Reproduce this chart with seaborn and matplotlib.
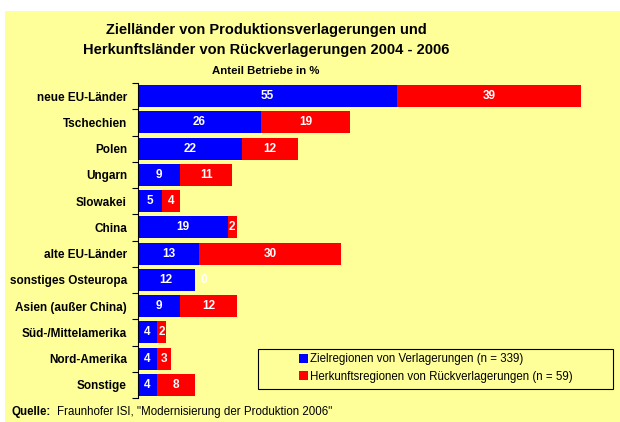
import matplotlib
matplotlib.use("Agg")
import matplotlib.pyplot as plt
from matplotlib.patches import Rectangle
from matplotlib.ticker import FixedLocator
import pandas as pd
import seaborn as sns

plt.rcParams['font.family'] = ['Liberation Sans', 'DejaVu Sans']

# data
regions = ['neue EU-Länder', 'Tschechien', 'Polen', 'Ungarn', 'Slowakei', 'China',
           'alte EU-Länder', 'sonstiges Osteuropa', 'Asien (außer China)',
           'Süd-/Mittelamerika', 'Nord-Amerika', 'Sonstige']
ziel = [55, 26, 22, 9, 5, 19, 13, 12, 9, 4, 4, 4]
herkunft = [39, 19, 12, 11, 4, 2, 30, 0, 12, 2, 3, 8]
label_ziel = 'Zielregionen von Verlagerungen (n = 339)'
label_herkunft = 'Herkunftsregionen von Rückverlagerungen (n = 59)'

BG = '#FFFF99'
BLUE = '#0000FF'
RED = '#FF0000'

df = pd.DataFrame({'region': regions, 'ziel': ziel, 'herkunft': herkunft})
df['total'] = df['ziel'] + df['herkunft']

fig = plt.figure(figsize=(6.2, 4.22), dpi=100)
fig.patch.set_facecolor('white')
fig.patches.append(Rectangle((5 / 620, 0), 1, 411 / 422, transform=fig.transFigure,
                             facecolor=BG, edgecolor='none', zorder=-10))

ax = fig.add_axes([138 / 620, 24 / 422, 462 / 620, 315 / 422])
ax.set_facecolor('none')

# stacked bars: total in red, blue part drawn on top
sns.barplot(data=df, x='total', y='region', color=RED, width=0.84, saturation=1,
            edgecolor='none', ax=ax, label=label_herkunft)
sns.barplot(data=df, x='ziel', y='region', color=BLUE, width=0.84, saturation=1,
            edgecolor='none', ax=ax, label=label_ziel)
handles, labels = ax.get_legend_handles_labels()
if ax.get_legend() is not None:
    ax.get_legend().remove()

ax.set_xlim(0, 98)
ax.set_ylim(11.5, -0.5)
ax.set_xlabel('')
ax.set_ylabel('')
ax.set_xticks([])
for s in ['top', 'right', 'bottom']:
    ax.spines[s].set_visible(False)
ax.spines['left'].set_color('black')
ax.spines['left'].set_linewidth(0.8)
ax.tick_params(axis='y', which='major', length=0, pad=8)
ax.yaxis.set_minor_locator(FixedLocator([i - 0.5 for i in range(len(regions) + 1)]))
ax.tick_params(axis='y', which='minor', length=4, width=0.8, color='black')
for t in ax.get_yticklabels():
    t.set_fontweight('bold')
    t.set_fontsize(8.5)

for i, (b, r) in enumerate(zip(ziel, herkunft)):
    ax.text(b / 2, i, str(b), color='white', fontweight='bold', fontsize=8.5,
            ha='center', va='center')
    rx = b + r / 2 if r > 0 else b + 2
    ax.text(rx, i, str(r), color='white', fontweight='bold', fontsize=8.5,
            ha='center', va='center')

# legend box drawn by hand, legend content centred inside it
fig.patches.append(Rectangle((258 / 620, 1 - 389 / 422), 355 / 620, 40 / 422,
                             transform=fig.transFigure, facecolor=BG,
                             edgecolor='black', linewidth=0.8, zorder=2))
leg = fig.legend(handles[::-1], labels[::-1], loc='center',
                 bbox_to_anchor=(436 / 620, 1 - 368 / 422),
                 fontsize=8.3, frameon=False, handlelength=0.75,
                 handleheight=0.75, handletextpad=0.2, borderpad=0, labelspacing=0.45)
leg._legend_box.align = 'left'
leg.set_zorder(3)

fig.text(266 / 620, 1 - 30 / 422, 'Zielländer von Produktionsverlagerungen und',
         ha='center', va='center', fontsize=10.5, fontweight='bold')
fig.text(266 / 620, 1 - 50 / 422, 'Herkunftsländer von Rückverlagerungen 2004 - 2006',
         ha='center', va='center', fontsize=10.5, fontweight='bold')
fig.text(266 / 620, 1 - 71 / 422, 'Anteil Betriebe in %',
         ha='center', va='center', fontsize=8.2, fontweight='bold')

fig.text(12 / 620, 1 - 412 / 422, 'Quelle:', ha='left', va='center',
         fontsize=8.3, fontweight='bold')
fig.text(57 / 620, 1 - 412 / 422, 'Fraunhofer ISI, "Modernisierung der Produktion 2006"',
         ha='left', va='center', fontsize=8.3)

fig.savefig('out.png', dpi=100, facecolor=fig.get_facecolor())
